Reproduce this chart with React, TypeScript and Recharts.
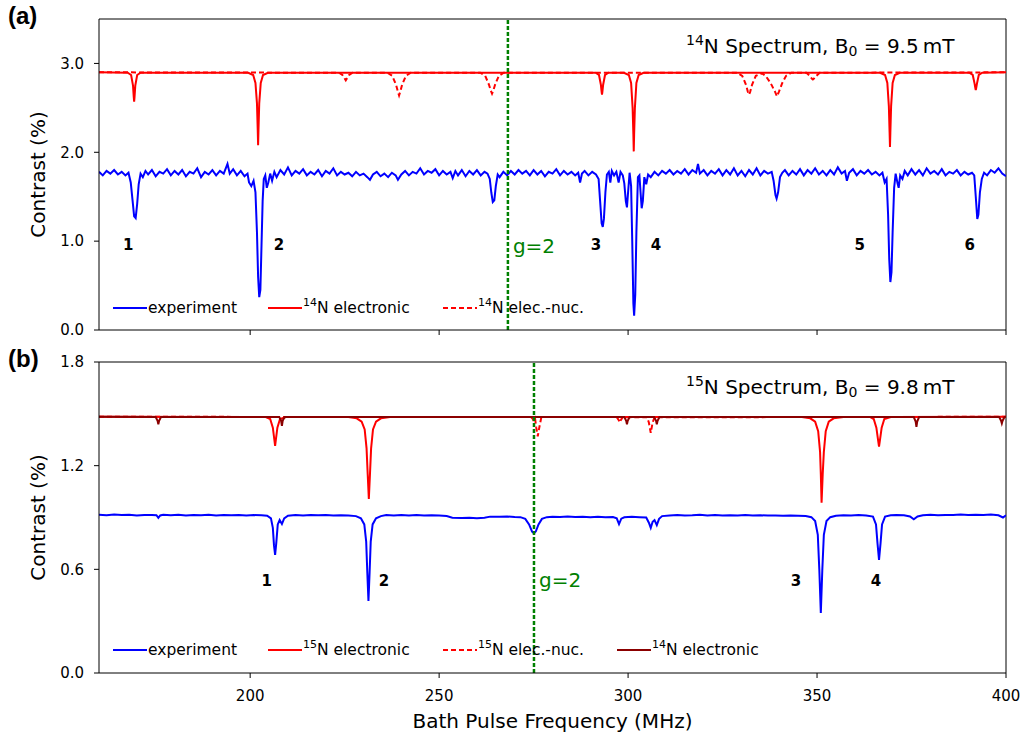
import { Line, LineChart, ReferenceDot, ReferenceLine, XAxis, YAxis } from "recharts";

type Pt = [number, number];

const freqDomain = [160, 400];
const freqTicks = [200, 250, 300, 350, 400];
const contrastDomainA = [0, 3.5];
const contrastTicksA = [0, 1, 2, 3];
const contrastDomainB = [0, 1.8];
const contrastTicksB = [0, 0.6, 1.2, 1.8];
const gLineA = 268.2;
const gLineB = 275.1;

// panel (a): 14N sample
const expA: Pt[] = [
  [160, 1.78], [161, 1.74], [162, 1.79], [163, 1.76], [164, 1.8], [165, 1.75], [166, 1.78], [167, 1.74],
  [167.8, 1.77], [168.4, 1.66], [168.9, 1.45], [169.3, 1.28], [169.7, 1.26], [170.1, 1.42], [170.5, 1.64],
  [171, 1.76], [171.6, 1.72], [172.3, 1.79], [173, 1.75], [174, 1.8], [175, 1.73], [176, 1.78], [177, 1.76],
  [178, 1.81], [179, 1.74], [180, 1.79], [181, 1.75], [182, 1.8], [183, 1.73], [184, 1.78], [185, 1.76],
  [186, 1.82], [187, 1.72], [188, 1.78], [189, 1.75], [190, 1.8], [191, 1.74], [192, 1.79], [193, 1.76],
  [194, 1.87], [194.6, 1.76], [195.5, 1.81], [196.5, 1.74], [197.5, 1.79], [198.5, 1.73], [199.3, 1.76],
  [199.7, 1.66], [200.3, 1.62], [200.9, 1.68], [201.4, 1.55], [201.8, 1.1], [202.1, 0.6], [202.4, 0.37],
  [202.7, 0.45], [203, 0.95], [203.3, 1.45], [203.6, 1.7], [204, 1.74], [204.4, 1.6], [204.8, 1.66],
  [205.3, 1.76], [205.8, 1.68], [206.4, 1.78], [207, 1.72], [208, 1.8], [209, 1.75], [210, 1.83], [211, 1.74],
  [212, 1.79], [213, 1.76], [214, 1.81], [215, 1.74], [216, 1.78], [217, 1.75], [218, 1.8], [219, 1.73],
  [220, 1.79], [221, 1.76], [222, 1.82], [223, 1.74], [224, 1.78], [225, 1.75], [226, 1.77], [227, 1.73],
  [228, 1.78], [229, 1.74], [230, 1.76], [231, 1.72], [231.7, 1.69], [232.5, 1.75], [233.5, 1.78],
  [234.5, 1.73], [235.5, 1.76], [236.5, 1.72], [237.5, 1.77], [238.5, 1.74], [239.1, 1.69], [240, 1.75],
  [241, 1.79], [242, 1.74], [243, 1.78], [244, 1.76], [245, 1.82], [246, 1.75], [247, 1.79], [248, 1.77],
  [249, 1.81], [250, 1.74], [251, 1.79], [252, 1.75], [253, 1.78], [253.6, 1.71], [254.3, 1.79], [255, 1.74],
  [256, 1.8], [257, 1.73], [258, 1.79], [259, 1.75], [260, 1.8], [261, 1.74], [262, 1.78], [262.8, 1.76],
  [263.4, 1.7], [263.8, 1.55], [264.2, 1.44], [264.6, 1.46], [265, 1.62], [265.5, 1.75], [266, 1.72],
  [267, 1.78], [268, 1.74], [269, 1.79], [270, 1.75], [271, 1.8], [272, 1.76], [273, 1.79], [274, 1.74],
  [275, 1.8], [276, 1.75], [277, 1.79], [278, 1.73], [279, 1.78], [280, 1.76], [281, 1.81], [282, 1.74],
  [283, 1.79], [284, 1.75], [285, 1.78], [286, 1.74], [286.8, 1.77], [287.3, 1.66], [287.8, 1.76],
  [288.5, 1.79], [289.5, 1.74], [290.5, 1.78], [291.5, 1.75], [292.2, 1.7], [292.6, 1.45], [293, 1.2],
  [293.3, 1.16], [293.6, 1.25], [294, 1.55], [294.4, 1.75], [294.9, 1.78], [295.3, 1.66], [295.7, 1.79],
  [296.3, 1.74], [296.9, 1.78], [297.5, 1.66], [298, 1.78], [298.6, 1.74], [299, 1.65], [299.4, 1.45],
  [299.7, 1.38], [300, 1.55], [300.4, 1.77], [300.8, 1.62], [301.1, 1.0], [301.4, 0.3], [301.6, 0.16],
  [301.9, 0.4], [302.2, 1.1], [302.6, 1.72], [303, 1.74], [303.3, 1.55], [303.6, 1.37], [303.9, 1.45],
  [304.3, 1.72], [304.8, 1.64], [305.3, 1.75], [306, 1.72], [307, 1.78], [308, 1.74], [309, 1.79],
  [310, 1.76], [311, 1.8], [312, 1.75], [313, 1.79], [314, 1.76], [315, 1.81], [316, 1.75], [317, 1.8],
  [318, 1.77], [318.5, 1.87], [319, 1.76], [320, 1.8], [321, 1.74], [322, 1.79], [323, 1.76], [324, 1.81],
  [325, 1.74], [326, 1.8], [327, 1.75], [328, 1.82], [329, 1.74], [330, 1.79], [331, 1.73], [332, 1.8],
  [333, 1.75], [334, 1.82], [335, 1.74], [336, 1.79], [337, 1.76], [338, 1.78], [338.5, 1.68], [339, 1.52],
  [339.3, 1.48], [339.7, 1.55], [340.2, 1.72], [340.8, 1.77], [341.5, 1.8], [342.5, 1.74], [343.5, 1.79],
  [344.5, 1.75], [345.5, 1.81], [346.5, 1.74], [347.5, 1.8], [348.5, 1.76], [349.5, 1.82], [350.5, 1.75],
  [351.5, 1.79], [352.5, 1.74], [353.5, 1.8], [354.5, 1.75], [355.5, 1.83], [356.5, 1.76], [357.4, 1.79],
  [357.9, 1.68], [358.5, 1.77], [359.5, 1.81], [360.5, 1.74], [361.5, 1.79], [362.5, 1.76], [363.5, 1.8],
  [364.5, 1.75], [365.5, 1.78], [366.5, 1.74], [367.3, 1.77], [367.9, 1.66], [368.4, 1.7], [368.8, 1.3],
  [369.1, 0.8], [369.4, 0.54], [369.7, 0.65], [370, 1.1], [370.4, 1.6], [370.8, 1.76], [371.3, 1.65],
  [371.6, 1.6], [372, 1.74], [372.6, 1.7], [373.2, 1.79], [374, 1.74], [375, 1.81], [376, 1.75], [377, 1.8],
  [378, 1.74], [379, 1.82], [380, 1.76], [381, 1.79], [382, 1.75], [383, 1.81], [384, 1.74], [385, 1.78],
  [386, 1.76], [387, 1.8], [388, 1.74], [389, 1.78], [390, 1.75], [391, 1.77], [391.6, 1.74], [392, 1.5],
  [392.4, 1.25], [392.7, 1.3], [393.1, 1.55], [393.6, 1.7], [394.2, 1.77], [395, 1.74], [396, 1.8],
  [397, 1.77], [398, 1.82], [399, 1.76], [400, 1.73],
];

const n14ElecA: Pt[] = [
  [160, 2.9], [167.6, 2.895], [168.5, 2.87], [169, 2.75], [169.2, 2.62], [169.3, 2.57], [169.4, 2.62],
  [169.6, 2.75], [170.1, 2.87], [171, 2.895], [199.5, 2.895], [200.8, 2.87], [201.4, 2.78], [201.8, 2.55],
  [202, 2.25], [202.1, 2.08], [202.2, 2.25], [202.4, 2.55], [202.8, 2.78], [203.4, 2.87], [204.7, 2.895],
  [291.4, 2.895], [292.3, 2.87], [292.8, 2.76], [293, 2.68], [293.1, 2.65], [293.2, 2.68], [293.4, 2.76],
  [293.9, 2.87], [294.8, 2.895], [298.9, 2.895], [300.2, 2.87], [300.8, 2.78], [301.2, 2.5], [301.4, 2.2],
  [301.5, 2.01], [301.6, 2.2], [301.8, 2.5], [302.2, 2.78], [302.8, 2.87], [304.1, 2.895], [366.7, 2.895],
  [368, 2.87], [368.6, 2.78], [369, 2.52], [369.2, 2.22], [369.3, 2.06], [369.4, 2.22], [369.6, 2.52],
  [370, 2.78], [370.6, 2.87], [371.9, 2.895], [390.3, 2.895], [391.2, 2.87], [391.7, 2.77], [391.9, 2.72],
  [392, 2.7], [392.1, 2.72], [392.3, 2.77], [392.8, 2.87], [393.7, 2.895], [400, 2.9],
];

const n14NucA: Pt[] = [
  [160, 2.9], [223.5, 2.895], [224.4, 2.87], [225, 2.83], [225.3, 2.81], [225.6, 2.83], [226.2, 2.87],
  [227.1, 2.895], [236.3, 2.895], [237.6, 2.86], [238.6, 2.76], [239.1, 2.68], [239.4, 2.64], [239.7, 2.68],
  [240.2, 2.76], [241.2, 2.86], [242.5, 2.895], [260.9, 2.895], [262.2, 2.86], [263.2, 2.76], [263.7, 2.69],
  [264, 2.66], [264.3, 2.69], [264.8, 2.76], [265.8, 2.86], [267.1, 2.895], [328.9, 2.895], [330.2, 2.86],
  [331.2, 2.76], [331.7, 2.68], [332, 2.65], [332.3, 2.68], [332.8, 2.76], [333.8, 2.86], [335.4, 2.89],
  [336.4, 2.86], [337.7, 2.78], [338.9, 2.68], [339.4, 2.63], [339.9, 2.68], [340.8, 2.78], [341.8, 2.86],
  [343.2, 2.895], [347.2, 2.895], [348.1, 2.86], [348.6, 2.83], [348.9, 2.82], [349.2, 2.83], [349.8, 2.86],
  [350.7, 2.895], [400, 2.9],
];

// panel (b): 15N sample
const expB: Pt[] = [
  [160, 0.916], [162, 0.913], [164, 0.917], [166, 0.914], [168, 0.916], [170, 0.912], [172, 0.915],
  [174, 0.914], [175.2, 0.913], [175.7, 0.898], [176.2, 0.912], [177, 0.916], [179, 0.913], [181, 0.916],
  [183, 0.912], [185, 0.915], [187, 0.913], [189, 0.916], [191, 0.912], [193, 0.914], [195, 0.913],
  [197, 0.915], [199, 0.912], [201, 0.914], [203, 0.913], [204.5, 0.91], [205.5, 0.895], [206, 0.84],
  [206.3, 0.74], [206.6, 0.683], [206.9, 0.75], [207.3, 0.86], [207.8, 0.885], [208.4, 0.862], [209, 0.895],
  [210, 0.91], [212, 0.914], [214, 0.912], [216, 0.915], [218, 0.913], [220, 0.914], [222, 0.911],
  [224, 0.913], [226, 0.912], [228, 0.908], [229.3, 0.895], [230.2, 0.86], [230.7, 0.76], [231, 0.58],
  [231.3, 0.417], [231.6, 0.58], [231.9, 0.76], [232.4, 0.86], [233.3, 0.895], [234.6, 0.908], [236, 0.914],
  [238, 0.912], [240, 0.915], [242, 0.912], [244, 0.914], [246, 0.911], [248, 0.913], [250, 0.911],
  [252, 0.909], [253.5, 0.899], [256, 0.897], [258, 0.898], [260, 0.896], [262, 0.899], [263.5, 0.905],
  [266, 0.904], [268, 0.906], [270, 0.903], [271.5, 0.902], [272.8, 0.892], [273.8, 0.86], [274.6, 0.818],
  [275.1, 0.808], [275.6, 0.82], [276.3, 0.86], [277.2, 0.892], [278.5, 0.902], [280, 0.905], [282, 0.903],
  [284, 0.906], [286, 0.903], [288, 0.905], [290, 0.902], [292, 0.904], [294, 0.902], [296, 0.903],
  [297, 0.895], [297.6, 0.862], [298.2, 0.893], [299, 0.901], [301, 0.904], [303, 0.902], [304.8, 0.9],
  [305.5, 0.87], [306, 0.84], [306.5, 0.875], [307, 0.885], [307.6, 0.856], [308.2, 0.892], [309, 0.908],
  [311, 0.912], [313, 0.914], [315, 0.911], [317, 0.913], [319, 0.916], [321, 0.912], [323, 0.914],
  [325, 0.911], [327, 0.913], [329, 0.912], [331, 0.914], [333, 0.911], [335, 0.913], [337, 0.911],
  [339, 0.912], [341, 0.91], [343, 0.911], [345, 0.91], [347, 0.908], [348.5, 0.902], [349.5, 0.88],
  [350.2, 0.8], [350.6, 0.6], [351, 0.347], [351.4, 0.6], [351.8, 0.8], [352.5, 0.88], [353.5, 0.902],
  [355, 0.91], [357, 0.913], [359, 0.911], [361, 0.914], [363, 0.912], [364.8, 0.905], [365.6, 0.86],
  [366, 0.75], [366.4, 0.654], [366.8, 0.75], [367.2, 0.86], [368, 0.905], [369.5, 0.913], [371, 0.915],
  [373, 0.913], [374.6, 0.906], [375.6, 0.89], [376.6, 0.906], [378, 0.913], [380, 0.916], [382, 0.913],
  [384, 0.915], [386, 0.914], [388, 0.917], [390, 0.914], [392, 0.916], [394, 0.914], [396, 0.917],
  [398, 0.913], [399.2, 0.9], [400, 0.913],
];

const n15ElecB: Pt[] = [
  [160, 1.483], [204, 1.482], [205.3, 1.47], [206, 1.42], [206.4, 1.35], [206.6, 1.315], [206.8, 1.35],
  [207.2, 1.42], [207.9, 1.47], [209.5, 1.482], [226, 1.482], [228.2, 1.474], [229.5, 1.455], [230.3, 1.41],
  [230.8, 1.3], [231.1, 1.15], [231.4, 1.007], [231.7, 1.15], [232, 1.3], [232.5, 1.41], [233.3, 1.455],
  [234.6, 1.474], [237, 1.482], [346, 1.482], [348.2, 1.474], [349.5, 1.455], [350.3, 1.4], [350.8, 1.28],
  [351, 1.15], [351.2, 0.985], [351.5, 1.15], [351.8, 1.28], [352.3, 1.4], [353.1, 1.455], [354.4, 1.474],
  [357, 1.482], [364, 1.482], [365, 1.47], [365.7, 1.42], [366.2, 1.34], [366.4, 1.31], [366.6, 1.34],
  [367.1, 1.42], [367.8, 1.47], [369.5, 1.482], [400, 1.483],
];

const n15NucB: Pt[] = [
  [160, 1.483], [274.3, 1.481], [274.8, 1.47], [275.1, 1.455], [275.4, 1.47], [275.7, 1.42], [276.1, 1.37],
  [276.5, 1.42], [277, 1.475], [277.6, 1.482], [297, 1.481], [297.5, 1.465], [297.8, 1.45], [298.1, 1.465],
  [298.6, 1.481], [305, 1.48], [305.5, 1.45], [306, 1.39], [306.5, 1.45], [307, 1.48], [400, 1.483],
];

const n14ElecB: Pt[] = [
  [160, 1.483], [175, 1.481], [175.5, 1.46], [175.7, 1.44], [175.9, 1.46], [176.4, 1.481], [207.7, 1.481],
  [208.2, 1.46], [208.4, 1.43], [208.6, 1.46], [209.1, 1.481], [299, 1.481], [299.5, 1.46], [299.7, 1.44],
  [299.9, 1.46], [300.4, 1.481], [306.9, 1.481], [307.4, 1.46], [307.6, 1.44], [307.8, 1.46], [308.3, 1.481],
  [375.6, 1.481], [376.1, 1.455], [376.3, 1.424], [376.5, 1.455], [377, 1.481], [398.2, 1.481],
  [398.7, 1.46], [398.9, 1.445], [399.1, 1.46], [399.6, 1.481], [400, 1.483],
];

const peaksA = [
  { label: "1", x: 167.7, y: 0.955 },
  { label: "2", x: 207.6, y: 0.955 },
  { label: "3", x: 291.5, y: 0.955 },
  { label: "4", x: 307.4, y: 0.955 },
  { label: "5", x: 361.3, y: 0.955 },
  { label: "6", x: 390.4, y: 0.955 },
];
const peaksB = [
  { label: "1", x: 204.4, y: 0.532 },
  { label: "2", x: 235.4, y: 0.532 },
  { label: "3", x: 344.4, y: 0.532 },
  { label: "4", x: 365.6, y: 0.532 },
];

const BLUE = "#0000ff";
const RED = "#ff0000";
const DARKRED = "#8b0000";
const GREEN = "#008000";
const DASH = "5 3";

const toRows = (pts: Pt[]) => pts.map(([x, y]) => ({ x, y }));

type Series = { name: string; pts: Pt[]; color: string; dash?: string };

function Panel({
  top,
  height,
  marginTop,
  xAxisHeight,
  yDomain,
  yTicks,
  series,
  gLine,
  gY,
  peaks,
  showXLabels,
}: {
  top: number;
  height: number;
  marginTop: number;
  xAxisHeight: number;
  yDomain: number[];
  yTicks: number[];
  series: Series[];
  gLine: number;
  gY: number;
  peaks: { label: string; x: number; y: number }[];
  showXLabels: boolean;
}) {
  return (
    <div style={{ position: "absolute", left: 0, top }}>
      <LineChart
        width={1024}
        height={height}
        margin={{ top: marginTop, right: 18, bottom: 0, left: 39 }}
      >
        <XAxis
          dataKey="x"
          type="number"
          domain={freqDomain}
          ticks={freqTicks}
          allowDataOverflow
          height={xAxisHeight}
          tickSize={5}
          tickMargin={12}
          axisLine={{ stroke: "#000" }}
          tickLine={{ stroke: "#000" }}
          tick={{ fill: "#000", fontSize: 15 }}
          tickFormatter={(v) => (showXLabels ? String(v) : "")}
        />
        <YAxis
          type="number"
          domain={yDomain}
          ticks={yTicks}
          allowDataOverflow
          width={60}
          tickSize={5}
          tickMargin={10}
          axisLine={{ stroke: "#000" }}
          tickLine={{ stroke: "#000" }}
          tick={{ fill: "#000", fontSize: 15 }}
          tickFormatter={(v) => Number(v).toFixed(1)}
        />
        <ReferenceLine y={yDomain[1]} stroke="#000" />
        <ReferenceLine x={freqDomain[1]} stroke="#000" />
        {series.map((s) => (
          <Line
            key={s.name}
            data={toRows(s.pts)}
            dataKey="y"
            type="linear"
            stroke={s.color}
            strokeWidth={2}
            strokeDasharray={s.dash}
            dot={false}
            activeDot={false}
            isAnimationActive={false}
          />
        ))}
        <ReferenceLine x={gLine} stroke={GREEN} strokeWidth={2.5} strokeDasharray="4 2" />
        <ReferenceDot
          x={gLine}
          y={gY}
          r={0}
          shape={(p: any) => (
            <text x={p.cx + 5} y={p.cy} dominantBaseline="central" fill={GREEN} fontSize={20}>
              g=2
            </text>
          )}
        />
        {peaks.map((pk) => (
          <ReferenceDot
            key={pk.label}
            x={pk.x}
            y={pk.y}
            r={0}
            shape={(p: any) => (
              <text
                x={p.cx}
                y={p.cy}
                textAnchor="middle"
                dominantBaseline="central"
                fontSize={15}
                fontWeight="bold"
                fill="#000"
              >
                {pk.label}
              </text>
            )}
          />
        ))}
      </LineChart>
    </div>
  );
}

type LegendItem = { x: number; color: string; dash?: string; sup?: string; text: string };

function LegendRow({ y, items }: { y: number; items: LegendItem[] }) {
  return (
    <g>
      {items.map((it) => (
        <g key={it.x}>
          <line x1={it.x} x2={it.x + 34} y1={y} y2={y} stroke={it.color} strokeWidth={2} strokeDasharray={it.dash} />
          <text x={it.x + 35} y={y + 5} fontSize={15.5} fill="#000">
            {it.sup ? (
              <>
                <tspan fontSize={11} dy={-7}>{it.sup}</tspan>
                <tspan dy={7}>{it.text}</tspan>
              </>
            ) : (
              it.text
            )}
          </text>
        </g>
      ))}
    </g>
  );
}

function Title({ x, y, iso, field }: { x: number; y: number; iso: string; field: string }) {
  return (
    <text x={x} y={y} fontSize={20} fill="#000">
      <tspan fontSize={14} dy={-8}>{iso}</tspan>
      <tspan dy={8}>N Spectrum, B</tspan>
      <tspan fontSize={14} dy={3}>0</tspan>
      <tspan dy={-3}>{"\u00a0= " + field + "\u2009mT"}</tspan>
    </text>
  );
}

export default function App() {
  const seriesA: Series[] = [
    { name: "exp", pts: expA, color: BLUE },
    { name: "elec", pts: n14ElecA, color: RED },
    { name: "nuc", pts: n14NucA, color: RED, dash: DASH },
  ];
  const seriesB: Series[] = [
    { name: "exp", pts: expB, color: BLUE },
    { name: "elec15", pts: n15ElecB, color: RED },
    { name: "nuc15", pts: n15NucB, color: RED, dash: DASH },
    { name: "elec14", pts: n14ElecB, color: DARKRED },
  ];

  return (
    <div
      style={{
        position: "absolute",
        left: 0,
        top: 0,
        width: 1024,
        height: 739,
        background: "#fff",
        fontFamily: '"DejaVu Sans", sans-serif',
      }}
    >
      <Panel
        top={0}
        height={340}
        marginTop={19}
        xAxisHeight={10}
        yDomain={contrastDomainA}
        yTicks={contrastTicksA}
        series={seriesA}
        gLine={gLineA}
        gY={0.94}
        peaks={peaksA}
        showXLabels={false}
      />
      <Panel
        top={340}
        height={399}
        marginTop={22}
        xAxisHeight={66}
        yDomain={contrastDomainB}
        yTicks={contrastTicksB}
        series={seriesB}
        gLine={gLineB}
        gY={0.54}
        peaks={peaksB}
        showXLabels
      />
      <svg
        width={1024}
        height={739}
        style={{ position: "absolute", left: 0, top: 0, pointerEvents: "none" }}
      >
        <text x={8} y={24} fontFamily='"Liberation Sans", Arial, sans-serif' fontWeight="bold" fontSize={24}>
          (a)
        </text>
        <text x={8} y={367} fontFamily='"Liberation Sans", Arial, sans-serif' fontWeight="bold" fontSize={24}>
          (b)
        </text>
        <text x={38} y={174.5} fontSize={20} textAnchor="middle" dominantBaseline="central" transform="rotate(-90 38 174.5)">
          Contrast (%)
        </text>
        <text x={38} y={517.5} fontSize={20} textAnchor="middle" dominantBaseline="central" transform="rotate(-90 38 517.5)">
          Contrast (%)
        </text>
        <text x={552.5} y={728} fontSize={20} textAnchor="middle">
          Bath Pulse Frequency (MHz)
        </text>
        <Title x={686} y={53} iso="14" field="9.5" />
        <Title x={686} y={394} iso="15" field="9.8" />
        <LegendRow
          y={308}
          items={[
            { x: 113, color: BLUE, text: "experiment" },
            { x: 268, color: RED, sup: "14", text: "N electronic" },
            { x: 443, color: RED, dash: DASH, sup: "14", text: "N elec.-nuc." },
          ]}
        />
        <LegendRow
          y={650}
          items={[
            { x: 113, color: BLUE, text: "experiment" },
            { x: 268, color: RED, sup: "15", text: "N electronic" },
            { x: 443, color: RED, dash: DASH, sup: "15", text: "N elec.-nuc." },
            { x: 617, color: DARKRED, sup: "14", text: "N electronic" },
          ]}
        />
      </svg>
    </div>
  );
}
